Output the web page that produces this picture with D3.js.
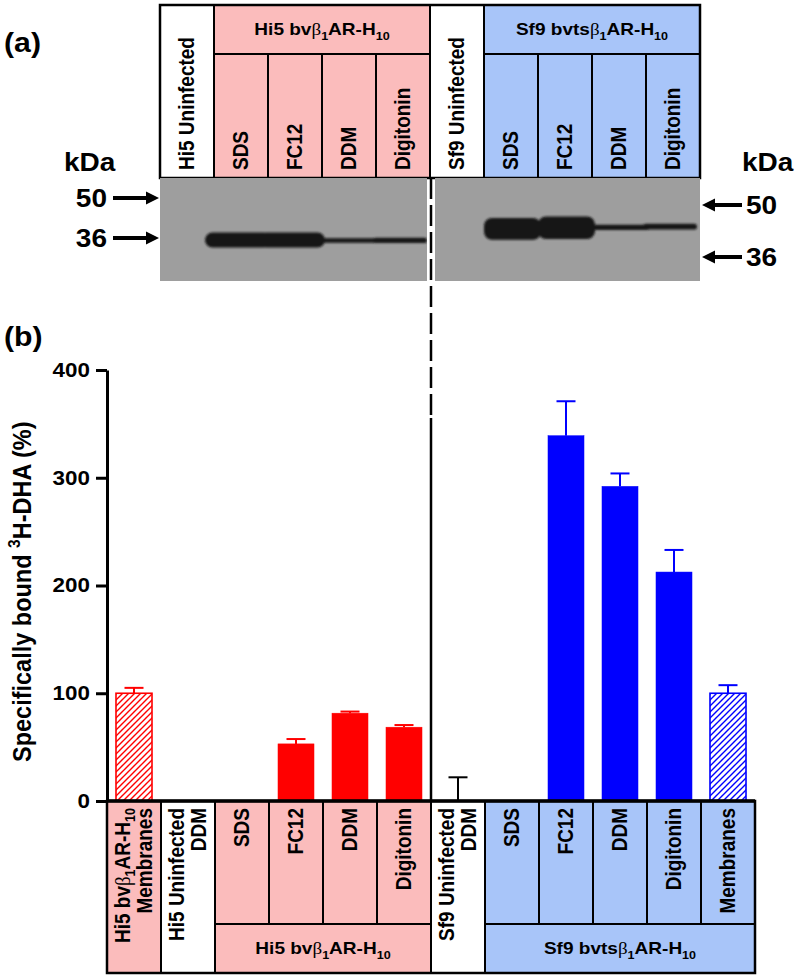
<!DOCTYPE html>
<html><head><meta charset="utf-8">
<script src="https://cdn.jsdelivr.net/npm/d3@7"></script>
<style>body{margin:0;background:#fff}svg{display:block}</style>
</head><body>
<script>
// ---------- data ----------
const categories = ["Hi5 Membranes","Hi5 Uninfected DDM","Hi5 SDS","Hi5 FC12","Hi5 DDM","Hi5 Digitonin",
  "Sf9 Uninfected DDM","Sf9 SDS","Sf9 FC12","Sf9 DDM","Sf9 Digitonin","Sf9 Membranes"];
const cellLine = ["Hi5","none","Hi5","Hi5","Hi5","Hi5","none","Sf9","Sf9","Sf9","Sf9","Sf9"];
const preparation = ["Membranes","DDM","SDS","FC12","DDM","Digitonin","DDM","SDS","FC12","DDM","Digitonin","Membranes"];
const values = [100, 0, 0, 53, 81.5, 68.5, 0, 0, 339, 292, 212.5, 100];
const errors = [5, 0, 0, 4.5, 1.5, 2, 22, 0, 32, 12, 20.5, 7.5];
const bottomLabels = [["Hi5 bvβ_{1}AR-H_{10}","Membranes"],["Hi5 Uninfected","DDM"],["SDS"],["FC12"],["DDM"],["Digitonin"],
  ["Sf9 Uninfected","DDM"],["SDS"],["FC12"],["DDM"],["Digitonin"],["Membranes"]];
const groupLabels = ["Hi5 bvβ_{1}AR-H_{10}","Sf9 bvtsβ_{1}AR-H_{10}"];
const bottomGroupCols = [[2,5],[7,11]];
const topGroupLanes = [[1,4],[6,9]];
const yTicks = [0,100,200,300,400];
const yTitle = "Specifically bound ^{3}H-DHA (%)";

const gelLanes = ["Hi5 Uninfected","SDS","FC12","DDM","Digitonin","Sf9 Uninfected","SDS","FC12","DDM","Digitonin"];
const gelCell = ["none","Hi5","Hi5","Hi5","Hi5","none","Sf9","Sf9","Sf9","Sf9"];
const bandStrength = [0, 1, 1, 0.3, 0.36, 0, 1.45, 1.5, 0.36, 0.38];
const bandKDa = [0, 35.4, 35.4, 35.3, 35.3, 0, 43.0, 43.3, 43.4, 43.6];
const markersKDa = [50, 36];

// ---------- setup ----------
const W = 799, H = 978;
const FONT = "'Liberation Sans', Arial, Helvetica, sans-serif";
const SX = 1.12; // horizontal glyph stretch seen in the original figure
const fillColor = {Hi5:"#FBBCBC", Sf9:"#A8C5F9", none:"#ffffff"};
const barColor = {Hi5:"#FF0000", Sf9:"#0000FF", none:"#000000"};

const svg = d3.select("body").append("svg").attr("width", W).attr("height", H)
  .attr("font-family", FONT).attr("font-weight", "bold");
const defs = svg.append("defs");
["Hi5","Sf9"].forEach(k => {
  defs.append("pattern").attr("id","hatch-"+k).attr("patternUnits","userSpaceOnUse")
    .attr("width",6).attr("height",6)
    .append("path").attr("d","M-1,1 L1,-1 M0,6 L6,0 M5,7 L7,5")
    .attr("stroke", barColor[k]).attr("stroke-width",1.4);
});
defs.append("filter").attr("id","blur").attr("x","-20%").attr("y","-50%").attr("width","140%").attr("height","200%")
  .append("feGaussianBlur").attr("stdDeviation",1.1);

function rich(text, str, fs) {
  const parts = str.split(/(_\{[^}]*\}|\^\{[^}]*\}|β)/).filter(s => s.length);
  let shift = 0;
  parts.forEach(p => {
    const t = text.append("tspan");
    let target = 0, content = p;
    if (p.startsWith("_{")) { target = fs*0.25; content = p.slice(2,-1); t.attr("font-size", fs*0.66); }
    else if (p.startsWith("^{")) { target = -fs*0.4; content = p.slice(2,-1); t.attr("font-size", fs*0.66); }
    else if (p === "β") { t.attr("font-weight","normal").attr("font-family","'Liberation Serif', serif"); }
    if (target !== shift) { t.attr("dy", target - shift); shift = target; }
    t.text(content);
  });
  return text;
}
// text helper: position (x0,y0), optional rotation, anchor, size, dy
function label(g, x0, y0, str, fs, opts = {}) {
  const t = g.append("text")
    .attr("transform", `translate(${x0},${y0}) scale(${SX},1)` + (opts.rot ? " rotate(-90)" : ""))
    .attr("text-anchor", opts.anchor || "start").attr("font-size", fs);
  if (opts.dy) t.attr("dy", opts.dy);
  return rich(t, String(str), fs);
}

// ---------- scales ----------
const x = d3.scaleBand().domain(d3.range(categories.length)).range([107, 755]);
const bw = x.bandwidth();
const barW = bw * 0.667;
const y = d3.scaleLinear().domain([0, 400]).range([801, 370]);
const xt = d3.scaleBand().domain(d3.range(gelLanes.length)).range([160, 700]);
const tbw = xt.bandwidth();

// ---------- panel labels ----------
label(svg, 4, 52, "(a)", 27);
label(svg, 4, 346, "(b)", 27);

// ---------- top table ----------
const topY0 = 5, topY1 = 54, topY2 = 178;
const inGroup = (i, groups) => groups.some(g => i >= g[0] && i <= g[1]);
const topG = svg.append("g");
gelLanes.forEach((lab, i) => {
  const g = inGroup(i, topGroupLanes);
  topG.append("rect").attr("x", xt(i)).attr("y", g ? topY1 : topY0)
    .attr("width", tbw).attr("height", topY2 - (g ? topY1 : topY0))
    .attr("fill", fillColor[gelCell[i]]).attr("stroke","#000").attr("stroke-width",2);
});
topGroupLanes.forEach((gl, k) => {
  const x0 = xt(gl[0]), x1 = xt(gl[1]) + tbw;
  topG.append("rect").attr("x", x0).attr("y", topY0).attr("width", x1-x0).attr("height", topY1-topY0)
    .attr("fill", fillColor[gelCell[gl[0]]]).attr("stroke","#000").attr("stroke-width",2);
  label(topG, (x0+x1)/2, (topY0+topY1)/2, groupLabels[k], 17, {anchor:"middle", dy:"0.35em"});
});
gelLanes.forEach((lab, i) => {
  label(topG, xt(i)+tbw/2, topY2-8, lab, 19, {rot:true, anchor:"start", dy:"0.35em"});
});
topG.append("rect").attr("x",160).attr("y",topY0).attr("width",540).attr("height",topY2-topY0)
  .attr("fill","none").attr("stroke","#000").attr("stroke-width",2.5);

// ---------- gels ----------
const gelY0 = 178, gelY1 = 281;
const gels = [
  {lanes:[0,1,2,3,4], x0: xt(0), x1: xt(5)-3, lead: 9, scale: d3.scaleLog().domain([50,36]).range([198,238])},
  {lanes:[5,6,7,8,9], x0: xt(5)+5, x1: xt(9)+tbw, lead: 0, scale: d3.scaleLog().domain([50,36]).range([205,257])}
];
gels.forEach((gel, gi) => {
  const cid = "clip"+gi;
  defs.append("clipPath").attr("id",cid).append("rect")
    .attr("x",gel.x0).attr("y",gelY0).attr("width",gel.x1-gel.x0).attr("height",gelY1-gelY0);
  svg.append("rect").attr("x",gel.x0).attr("y",gelY0).attr("width",gel.x1-gel.x0).attr("height",gelY1-gelY0)
    .attr("fill","#9e9e9e");
  const gb = svg.append("g").attr("clip-path",`url(#${cid})`).append("g").attr("filter","url(#blur)");
  gel.lanes.forEach(i => {
    if (bandStrength[i] <= 0) return;
    const h = 15 * bandStrength[i];
    const cy = gel.scale(bandKDa[i]);
    const last = i === gel.lanes[gel.lanes.length-1];
    const x0 = xt(i) - (bandStrength[i] > 0.5 ? gel.lead : 3);
    const x1 = xt(i) + tbw + (last ? -3 : 3);
    gb.append("rect").attr("x", x0).attr("y", cy - h/2).attr("width", x1-x0).attr("height", h)
      .attr("rx", Math.min(h/2, 8)).attr("fill","#151515");
  });
});

// marker arrows
function arrow(g, xTail, xHead, yy) {
  const dir = Math.sign(xHead - xTail);
  g.append("line").attr("x1",xTail).attr("x2",xHead - dir*10).attr("y1",yy).attr("y2",yy)
    .attr("stroke","#000").attr("stroke-width",4);
  g.append("path").attr("d",`M${xHead},${yy} L${xHead-dir*13},${yy-6.5} L${xHead-dir*13},${yy+6.5} Z`).attr("fill","#000");
}
const ann = svg.append("g");
label(ann, 64, 171, "kDa", 25);
label(ann, 742, 171, "kDa", 25);
markersKDa.forEach(m => {
  const yl = gels[0].scale(m), yr = gels[1].scale(m);
  arrow(ann, 113, 159, yl);
  label(ann, 107, yl, m, 25, {anchor:"end", dy:"0.36em"});
  arrow(ann, 742, 702, yr);
  label(ann, 746, yr, m, 25, {dy:"0.36em"});
});

// separator line
const sepX = x(6);
svg.append("line").attr("x1",sepX).attr("x2",sepX).attr("y1",gelY0).attr("y2",418)
  .attr("stroke","#000").attr("stroke-width",2.5).attr("stroke-dasharray","21,6");
svg.append("line").attr("x1",sepX).attr("x2",sepX).attr("y1",418).attr("y2",801)
  .attr("stroke","#000").attr("stroke-width",2.5);

// ---------- bars ----------
const bars = svg.append("g");
categories.forEach((c, i) => {
  const v = values[i], e = errors[i], col = barColor[cellLine[i]];
  const cx = x(i) + bw/2;
  if (v > 0) {
    const hatched = preparation[i] === "Membranes";
    bars.append("rect").attr("x", cx - barW/2).attr("y", y(v)).attr("width", barW).attr("height", y(0)-y(v))
      .attr("fill", hatched ? `url(#hatch-${cellLine[i]})` : col)
      .attr("stroke", col).attr("stroke-width", hatched ? 1.6 : 0.5);
  }
  if (e > 0) {
    bars.append("line").attr("x1",cx).attr("x2",cx).attr("y1",y(v)).attr("y2",y(v+e)).attr("stroke",col).attr("stroke-width",2);
    bars.append("line").attr("x1",cx-9.5).attr("x2",cx+9.5).attr("y1",y(v+e)).attr("y2",y(v+e)).attr("stroke",col).attr("stroke-width",2);
  }
});

// ---------- y axis ----------
const ya = svg.append("g").attr("transform","translate(107,0)")
  .call(d3.axisLeft(y).tickValues(yTicks).tickSize(11).tickSizeOuter(0).tickPadding(4.3));
ya.select(".domain").attr("stroke-width",3);
ya.selectAll(".tick line").attr("stroke-width",3);
ya.selectAll(".tick text").attr("font-size",20).attr("font-family",FONT).attr("font-weight","bold")
  .attr("fill","#000").attr("transform",`scale(${SX},1)`);
label(svg, 31, 762, yTitle, 23.5, {rot:true, anchor:"start"});

// ---------- bottom table ----------
const bY0 = 801, bY1 = 924, bY2 = 973;
const bt = svg.append("g");
categories.forEach((c, i) => {
  const g = inGroup(i, bottomGroupCols);
  bt.append("rect").attr("x", x(i)).attr("y", bY0).attr("width", bw).attr("height", (g ? bY1 : bY2) - bY0)
    .attr("fill", fillColor[cellLine[i]]).attr("stroke","#000").attr("stroke-width",2);
});
bottomGroupCols.forEach((gc, k) => {
  const x0 = x(gc[0]), x1 = x(gc[1]) + bw;
  bt.append("rect").attr("x",x0).attr("y",bY1).attr("width",x1-x0).attr("height",bY2-bY1)
    .attr("fill", fillColor[cellLine[gc[0]]]).attr("stroke","#000").attr("stroke-width",2);
  label(bt, (x0+x1)/2, (bY1+bY2)/2, groupLabels[k], 17, {anchor:"middle", dy:"0.35em"});
});
categories.forEach((c, i) => {
  const lines = bottomLabels[i];
  lines.forEach((ln, j) => {
    const off = lines.length === 1 ? 0 : (j === 0 ? -11.5 : 11);
    label(bt, x(i)+bw/2+off, bY0+7, ln, 19, {rot:true, anchor:"end", dy:"0.35em"});
  });
});
bt.append("rect").attr("x",107).attr("y",bY0).attr("width",648).attr("height",bY2-bY0)
  .attr("fill","none").attr("stroke","#000").attr("stroke-width",2.5);
bt.append("line").attr("x1",107).attr("x2",755).attr("y1",bY0).attr("y2",bY0).attr("stroke","#000").attr("stroke-width",3.5);
</script>
</body></html>
